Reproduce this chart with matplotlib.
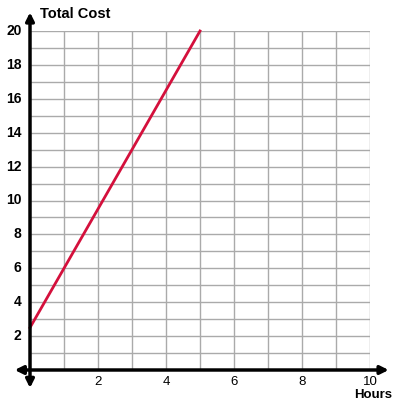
import numpy as np
import matplotlib
matplotlib.use("Agg")
from matplotlib import pyplot as plt

plt.rcParams['font.family'] = ['Liberation Sans', 'DejaVu Sans']

hours = [0, 5]
total_cost = [2.5, 20]
x_ticks = [2, 4, 6, 8, 10]
y_ticks = [2, 4, 6, 8, 10, 12, 14, 16, 18, 20]

fig = plt.figure(figsize=(4, 4), dpi=100)
ax = fig.add_axes([0.075, 0.075, 0.85, 0.8475])
ax.set_xlim(0, 10)
ax.set_ylim(0, 20)

# grid every unit
ax.set_xticks(np.arange(0, 11, 1))
ax.set_yticks(np.arange(0, 21, 1))
ax.grid(True, color='#aaaaaa', linewidth=1)
ax.tick_params(length=0, labelbottom=False, labelleft=False)
for s in ax.spines.values():
    s.set_visible(False)

ax.plot(hours, total_cost, color='#d4103c', linewidth=2, clip_on=False, zorder=3)

# axes with arrows
arrow = dict(arrowstyle='<|-|>', color='black', lw=2.5, mutation_scale=12, shrinkA=0, shrinkB=0)
ax.annotate('', xy=(10.55, 0), xytext=(-0.45, 0), arrowprops=arrow, annotation_clip=False)
ax.annotate('', xy=(0, 21.1), xytext=(0, -1.06), arrowprops=arrow, annotation_clip=False)

for t in y_ticks:
    ax.text(-0.25, t, str(t), ha='right', va='center', fontsize=10, fontweight='semibold')
for t in x_ticks:
    ax.text(t, -0.7, str(t), ha='center', va='center', fontsize=9.5)

ax.text(0.3, 21.0, 'Total Cost', ha='left', va='center', fontsize=10.5, fontweight='bold')
ax.text(10.08, -1.48, 'Hours', ha='center', va='center', fontsize=9.5, fontweight='bold')

fig.savefig('out.png', dpi=100)
